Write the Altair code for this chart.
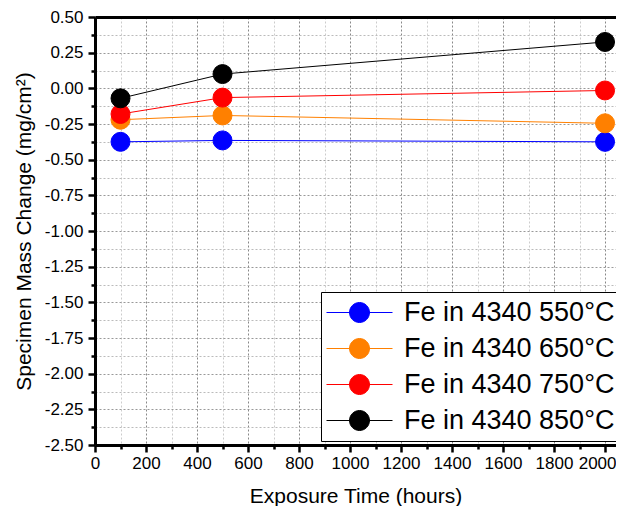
import altair as alt
import pandas as pd

hours = [100, 500, 2000]
series = ["Fe in 4340 550°C", "Fe in 4340 650°C", "Fe in 4340 750°C", "Fe in 4340 850°C"]
s550 = [-0.375, -0.365, -0.375]
s650 = [-0.22, -0.19, -0.245]
s750 = [-0.18, -0.065, -0.015]
s850 = [-0.07, 0.10, 0.325]
colors = ["#0000FF", "#FF8000", "#FF0000", "#000000"]

x_major = list(range(0, 2001, 200))
x_minor = list(range(100, 2001, 200))
y_major = [-2.5 + 0.25 * i for i in range(13)]
y_minor = [-2.375 + 0.25 * i for i in range(12)]

rows = []
for name, vals in zip(series, [s550, s650, s750, s850]):
    for h, v in zip(hours, vals):
        rows.append({"hours": h, "change": v, "series": name})
df = pd.DataFrame(rows)

FONT = "Liberation Sans"
xscale = alt.Scale(domain=[0, 2043], nice=False, zero=False)
yscale = alt.Scale(domain=[-2.5, 0.5], nice=False, zero=False)
cscale = alt.Scale(domain=series, range=colors)

sym = "M-3.3,0L3.3,0M1,0A1,1,0,1,1,-1,0A1,1,0,1,1,1,0Z"
legend = alt.Legend(
    orient="none", legendX=226, legendY=275, title=None,
    symbolType=sym, labelFontSize=27, labelFont=FONT, labelColor="black", labelLimit=0,
    strokeColor="black", fillColor="white", padding=7,
    symbolOffset=18, labelOffset=31, rowPadding=8, symbolStrokeWidth=1,
    symbolSize=400, symbolOpacity=1,
)

sort_order = series

X1 = alt.X("hours:Q", scale=xscale, axis=alt.Axis(
    values=x_major, orient="bottom", grid=True, gridColor="#888888", gridDash=[2, 2], gridWidth=1,
    domainColor="black", domainWidth=3, tickColor="black", tickWidth=2.5, tickSize=7,
    labelFont=FONT, labelFontSize=17, labelColor="black", labelPadding=3, format="d",
    labelAlign={"condition": {"test": "datum.value === 2000", "value": "right"}, "value": "center"},
    labelOffset={"condition": {"test": "datum.value === 2000", "value": 11}, "value": 0},
    title="Exposure Time (hours)", titleFont=FONT, titleFontSize=21, titleFontWeight="normal",
    titleColor="black", titlePadding=14))
Y1 = alt.Y("change:Q", scale=yscale, axis=alt.Axis(
    values=y_major, orient="left", grid=True, gridColor="#999999", gridDash=[2, 2], gridWidth=1,
    domainColor="black", domainWidth=3, tickColor="black", tickWidth=2.5, tickSize=7,
    labelFont=FONT, labelFontSize=17, labelColor="black", labelPadding=5,
    labelExpr="replace(format(datum.value, '.2f'), '\u2212', '-')",
    title="Specimen Mass Change (mg/cm²)", titleFont=FONT, titleFontSize=21,
    titleFontWeight="normal", titleColor="black", titlePadding=10))

X2 = alt.X("hours:Q", scale=xscale, axis=alt.Axis(
    values=x_minor, orient="bottom", grid=True, gridColor="#cccccc", gridDash=[2, 2], gridWidth=1,
    domain=False, labels=False, tickColor="black", tickWidth=2.5, tickSize=4, title=None))
Y2 = alt.Y("change:Q", scale=yscale, axis=alt.Axis(
    values=y_minor, orient="left", grid=True, gridColor="#bbbbbb", gridDash=[2, 2], gridWidth=1,
    domain=False, labels=False, tickColor="black", tickWidth=2.5, tickSize=4, title=None))

X3 = alt.X("hours:Q", scale=xscale, axis=alt.Axis(
    orient="top", grid=False, labels=False, ticks=False, domainColor="black", domainWidth=3, title=None))

base = alt.Chart(df)

frame = base.mark_point(opacity=0).encode(x=X3, y=alt.Y("change:Q", scale=yscale, axis=None))

lines = base.mark_line(strokeWidth=1).encode(
    x=X1, y=Y1,
    stroke=alt.Stroke("series:N", scale=cscale, legend=legend, sort=sort_order),
    order=alt.Order("hours:Q"),
)

points = base.mark_point(filled=False, size=361, opacity=1, strokeWidth=1, shape="circle").encode(
    x=X2, y=Y2,
    fill=alt.Fill("series:N", scale=cscale, legend=legend, sort=sort_order),
    stroke=alt.Stroke("series:N", scale=cscale, legend=legend, sort=sort_order),
)

chart = alt.layer(frame, lines, points).resolve_axis(x="independent", y="independent").properties(
    width=521, height=428,
    autosize=alt.AutoSizeParams(type="none"),
    padding={"left": 87, "top": 9, "right": 0, "bottom": 61},
    background="white",
).configure_view(stroke=None)

chart.save("out.html", embed_options={"renderer": "svg", "actions": False})
